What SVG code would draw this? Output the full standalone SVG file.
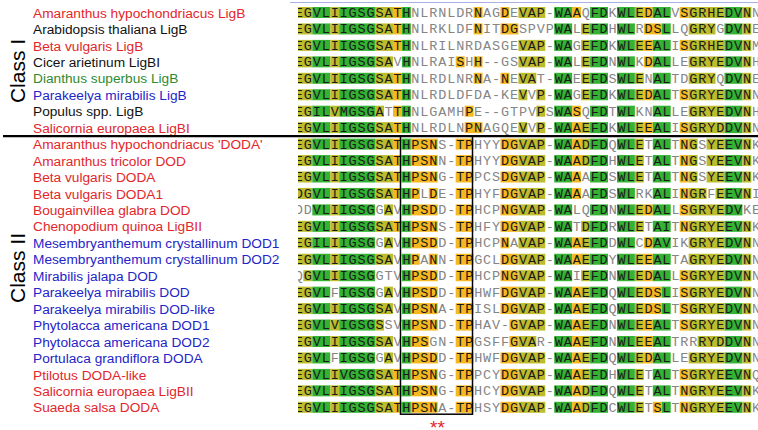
<svg xmlns="http://www.w3.org/2000/svg" xmlns:xlink="http://www.w3.org/1999/xlink" width="758" height="430" viewBox="0 0 758 430">
<style>
.n{font-family:"Liberation Sans",Arial,sans-serif;font-size:13.7px}
.r{fill:#e3262b}.k{fill:#111}.gr{fill:#2f8a2f}.b{fill:#2424c8}
.cls{font-family:"Liberation Sans",Arial,sans-serif;font-size:21px;fill:#000}
.s{font-family:"Liberation Mono","DejaVu Sans Mono",monospace;font-size:13.5px;letter-spacing:0.86px;fill:#858585}
.d{fill:#1a1a1a}
.g{fill:#33b233}.y{fill:#bcbc2c}.o{fill:#f5b820}
.ast{font-family:"Liberation Sans",Arial,sans-serif;font-size:19px;fill:#e3262b}
</style>
<defs>
<clipPath id="cp"><rect x="298" y="0" width="460" height="430"/></clipPath>
<g id="A"><rect class="y" x="0" width="2" height="1"/><rect class="g" x="2" width="2" height="1"/><rect class="y" x="4" width="1" height="1"/><rect class="g" x="5" width="4" height="1"/><rect class="y" x="9" width="2" height="1"/><rect class="o" x="11" width="1" height="1"/><rect class="g" x="12" width="1" height="1"/></g>
<g id="B"><rect class="o" x="13" width="3" height="1"/><rect class="o" x="18" width="2" height="1"/><rect class="o" x="23" width="2" height="1"/><rect class="y" x="25" width="3" height="1"/></g>
<g id="C"><rect class="g" x="29" width="2" height="1"/><rect class="o" x="31" width="1" height="1"/><rect class="y" x="32" width="1" height="1"/><rect class="g" x="33" width="2" height="1"/><rect class="g" x="36" width="2" height="1"/><rect class="y" x="38" width="1" height="1"/><rect class="g" x="48" width="2" height="1"/><rect class="y" x="50" width="1" height="1"/></g>
</defs>
<rect width="758" height="430" fill="#fff"/>
<line x1="290" y1="2.5" x2="758" y2="2.5" stroke="#aab0e6" stroke-width="1"/>
<g id="class-labels">
<text class="cls" transform="translate(25 71) rotate(-90)" text-anchor="middle">Class I</text>
<text class="cls" transform="translate(25 268) rotate(-90)" text-anchor="middle">Class II</text>
</g>
<g id="names" class="n">
<text x="33" y="17.6" class="r">Amaranthus hypochondriacus LigB</text>
<text x="33" y="34.05" class="k">Arabidopsis thaliana LigB</text>
<text x="33" y="50.5" class="r">Beta vulgaris LigB</text>
<text x="33" y="66.95" class="k">Cicer arietinum LigBI</text>
<text x="33" y="83.4" class="gr">Dianthus superbus LigB</text>
<text x="33" y="99.85" class="b">Parakeelya mirabilis LigB</text>
<text x="33" y="116.3" class="k">Populus spp. LigB</text>
<text x="33" y="132.75" class="r">Salicornia europaea LigBI</text>
<text x="33" y="149.2" class="r">Amaranthus hypochondriacus 'DODA'</text>
<text x="33" y="165.65" class="r">Amaranthus tricolor DOD</text>
<text x="33" y="182.1" class="r">Beta vulgaris DODA</text>
<text x="33" y="198.55" class="r">Beta vulgaris DODA1</text>
<text x="33" y="215" class="r">Bougainvillea glabra DOD</text>
<text x="33" y="231.45" class="r">Chenopodium quinoa LigBII</text>
<text x="33" y="247.9" class="b">Mesembryanthemum crystallinum DOD1</text>
<text x="33" y="264.35" class="b">Mesembryanthemum crystallinum DOD2</text>
<text x="33" y="280.8" class="b">Mirabilis jalapa DOD</text>
<text x="33" y="297.25" class="b">Parakeelya mirabilis DOD</text>
<text x="33" y="313.7" class="b">Parakeelya mirabilis DOD-like</text>
<text x="33" y="330.15" class="b">Phytolacca americana DOD1</text>
<text x="33" y="346.6" class="b">Phytolacca americana DOD2</text>
<text x="33" y="363.05" class="b">Portulaca grandiflora DODA</text>
<text x="33" y="379.5" class="r">Ptilotus DODA-like</text>
<text x="33" y="395.95" class="r">Salicornia europaea LigBII</text>
<text x="33" y="412.4" class="r">Suaeda salsa DODA</text>
</g>
<g id="alignment" clip-path="url(#cp)">
<g id="shading">
<g transform="translate(294.4 7) scale(8.96 11)"><use href="#A"/><rect class="o" x="20" width="1" height="1"/><rect class="o" x="23" width="1" height="1"/><rect class="y" x="25" width="3" height="1"/><rect class="g" x="29" width="2" height="1"/><rect class="o" x="31" width="1" height="1"/><rect class="g" x="33" width="2" height="1"/><rect class="g" x="36" width="2" height="1"/><rect class="y" x="38" width="1" height="1"/><rect class="o" x="39" width="1" height="1"/><rect class="g" x="40" width="2" height="1"/><rect class="o" x="43" width="1" height="1"/><rect class="y" x="44" width="4" height="1"/><rect class="g" x="48" width="2" height="1"/><rect class="y" x="50" width="1" height="1"/></g>
<g transform="translate(294.4 23.45) scale(8.96 11)"><use href="#A"/><rect class="o" x="20" width="1" height="1"/><rect class="o" x="23" width="2" height="1"/><rect class="g" x="29" width="2" height="1"/><rect class="y" x="32" width="1" height="1"/><rect class="g" x="33" width="2" height="1"/><rect class="g" x="36" width="2" height="1"/><rect class="o" x="39" width="2" height="1"/><rect class="g" x="41" width="1" height="1"/><rect class="y" x="44" width="3" height="1"/><rect class="g" x="48" width="2" height="1"/><rect class="y" x="50" width="1" height="1"/></g>
<g transform="translate(294.4 39.9) scale(8.96 11)"><use href="#A"/><rect class="y" x="25" width="3" height="1"/><rect class="g" x="29" width="2" height="1"/><rect class="y" x="32" width="1" height="1"/><rect class="g" x="33" width="2" height="1"/><rect class="g" x="36" width="2" height="1"/><rect class="y" x="38" width="1" height="1"/><rect class="o" x="39" width="1" height="1"/><rect class="g" x="40" width="2" height="1"/><rect class="o" x="43" width="1" height="1"/><rect class="y" x="44" width="4" height="1"/><rect class="g" x="48" width="2" height="1"/><rect class="y" x="50" width="1" height="1"/></g>
<g transform="translate(294.4 56.35) scale(8.96 11)"><rect class="y" x="0" width="2" height="1"/><rect class="g" x="2" width="2" height="1"/><rect class="y" x="4" width="1" height="1"/><rect class="g" x="5" width="4" height="1"/><rect class="y" x="9" width="2" height="1"/><rect class="g" x="12" width="1" height="1"/><rect class="o" x="18" width="1" height="1"/><rect class="o" x="20" width="1" height="1"/><rect class="y" x="25" width="3" height="1"/><rect class="g" x="29" width="2" height="1"/><rect class="y" x="32" width="1" height="1"/><rect class="g" x="33" width="2" height="1"/><rect class="g" x="36" width="2" height="1"/><rect class="o" x="39" width="1" height="1"/><rect class="g" x="40" width="2" height="1"/><rect class="y" x="44" width="4" height="1"/><rect class="g" x="48" width="2" height="1"/><rect class="y" x="50" width="1" height="1"/></g>
<g transform="translate(294.4 72.8) scale(8.96 11)"><use href="#A"/><rect class="o" x="20" width="1" height="1"/><rect class="o" x="23" width="1" height="1"/><rect class="y" x="25" width="2" height="1"/><rect class="g" x="29" width="2" height="1"/><rect class="y" x="32" width="1" height="1"/><rect class="g" x="33" width="2" height="1"/><rect class="g" x="36" width="2" height="1"/><rect class="y" x="38" width="1" height="1"/><rect class="g" x="40" width="2" height="1"/><rect class="y" x="44" width="3" height="1"/><rect class="g" x="48" width="2" height="1"/><rect class="y" x="50" width="1" height="1"/></g>
<g transform="translate(294.4 89.25) scale(8.96 11)"><use href="#A"/><rect class="y" x="25" width="1" height="1"/><rect class="y" x="27" width="1" height="1"/><rect class="g" x="29" width="2" height="1"/><rect class="y" x="32" width="1" height="1"/><rect class="g" x="33" width="2" height="1"/><rect class="g" x="36" width="2" height="1"/><rect class="y" x="38" width="1" height="1"/><rect class="o" x="39" width="1" height="1"/><rect class="g" x="40" width="2" height="1"/><rect class="o" x="43" width="1" height="1"/><rect class="y" x="44" width="4" height="1"/><rect class="g" x="48" width="2" height="1"/><rect class="y" x="50" width="1" height="1"/></g>
<g transform="translate(294.4 105.7) scale(8.96 11)"><rect class="y" x="0" width="2" height="1"/><rect class="g" x="2" width="2" height="1"/><rect class="y" x="4" width="1" height="1"/><rect class="g" x="5" width="4" height="1"/><rect class="y" x="9" width="1" height="1"/><rect class="o" x="11" width="1" height="1"/><rect class="g" x="12" width="1" height="1"/><rect class="o" x="19" width="1" height="1"/><rect class="y" x="27" width="1" height="1"/><rect class="g" x="29" width="2" height="1"/><rect class="o" x="31" width="1" height="1"/><rect class="g" x="33" width="2" height="1"/><rect class="g" x="36" width="2" height="1"/><rect class="g" x="40" width="2" height="1"/><rect class="y" x="44" width="4" height="1"/><rect class="g" x="48" width="2" height="1"/><rect class="y" x="50" width="1" height="1"/></g>
<g transform="translate(294.4 122.15) scale(8.96 11)"><use href="#A"/><use href="#C"/><rect class="o" x="19" width="2" height="1"/><rect class="y" x="25" width="1" height="1"/><rect class="y" x="27" width="1" height="1"/><rect class="o" x="39" width="1" height="1"/><rect class="g" x="40" width="2" height="1"/><rect class="o" x="43" width="1" height="1"/><rect class="y" x="44" width="4" height="1"/></g>
<g transform="translate(294.4 138.6) scale(8.96 11)"><use href="#A"/><use href="#B"/><use href="#C"/><rect class="g" x="40" width="2" height="1"/><rect class="o" x="43" width="1" height="1"/><rect class="y" x="44" width="1" height="1"/><rect class="y" x="46" width="2" height="1"/></g>
<g transform="translate(294.4 155.05) scale(8.96 11)"><use href="#A"/><use href="#B"/><use href="#C"/><rect class="g" x="40" width="2" height="1"/><rect class="o" x="43" width="1" height="1"/><rect class="y" x="44" width="1" height="1"/><rect class="y" x="46" width="2" height="1"/></g>
<g transform="translate(294.4 171.5) scale(8.96 11)"><use href="#A"/><use href="#B"/><rect class="g" x="29" width="2" height="1"/><rect class="o" x="31" width="1" height="1"/><rect class="g" x="33" width="2" height="1"/><rect class="g" x="36" width="2" height="1"/><rect class="y" x="38" width="1" height="1"/><rect class="g" x="40" width="2" height="1"/><rect class="o" x="43" width="1" height="1"/><rect class="y" x="44" width="1" height="1"/><rect class="y" x="46" width="2" height="1"/><rect class="g" x="48" width="2" height="1"/><rect class="y" x="50" width="1" height="1"/></g>
<g transform="translate(294.4 187.95) scale(8.96 11)"><use href="#A"/><rect class="o" x="13" width="1" height="1"/><rect class="o" x="15" width="1" height="1"/><rect class="o" x="18" width="2" height="1"/><rect class="o" x="23" width="2" height="1"/><rect class="y" x="25" width="3" height="1"/><rect class="g" x="29" width="2" height="1"/><rect class="o" x="31" width="1" height="1"/><rect class="g" x="33" width="2" height="1"/><rect class="g" x="36" width="2" height="1"/><rect class="g" x="40" width="2" height="1"/><rect class="o" x="43" width="1" height="1"/><rect class="y" x="44" width="2" height="1"/><rect class="y" x="47" width="1" height="1"/><rect class="g" x="48" width="2" height="1"/><rect class="y" x="50" width="1" height="1"/></g>
<g transform="translate(294.4 204.4) scale(8.96 11)"><rect class="g" x="2" width="2" height="1"/><rect class="y" x="4" width="1" height="1"/><rect class="g" x="5" width="4" height="1"/><rect class="y" x="10" width="1" height="1"/><rect class="g" x="12" width="1" height="1"/><use href="#B"/><rect class="g" x="29" width="2" height="1"/><rect class="g" x="33" width="2" height="1"/><rect class="g" x="36" width="2" height="1"/><rect class="y" x="38" width="1" height="1"/><rect class="o" x="39" width="1" height="1"/><rect class="g" x="40" width="2" height="1"/><rect class="o" x="43" width="1" height="1"/><rect class="y" x="44" width="4" height="1"/><rect class="g" x="48" width="2" height="1"/></g>
<g transform="translate(294.4 220.85) scale(8.96 11)"><use href="#A"/><use href="#B"/><rect class="g" x="29" width="2" height="1"/><rect class="y" x="32" width="1" height="1"/><rect class="g" x="33" width="2" height="1"/><rect class="g" x="36" width="2" height="1"/><rect class="y" x="38" width="1" height="1"/><rect class="g" x="40" width="2" height="1"/><rect class="o" x="43" width="1" height="1"/><rect class="y" x="44" width="4" height="1"/><rect class="g" x="48" width="2" height="1"/><rect class="y" x="50" width="1" height="1"/></g>
<g transform="translate(294.4 237.3) scale(8.96 11)"><rect class="y" x="0" width="2" height="1"/><rect class="g" x="2" width="2" height="1"/><rect class="y" x="4" width="1" height="1"/><rect class="g" x="5" width="4" height="1"/><rect class="y" x="10" width="1" height="1"/><rect class="g" x="12" width="1" height="1"/><rect class="o" x="13" width="3" height="1"/><rect class="o" x="18" width="2" height="1"/><rect class="o" x="23" width="1" height="1"/><rect class="y" x="25" width="3" height="1"/><rect class="g" x="29" width="2" height="1"/><rect class="o" x="31" width="1" height="1"/><rect class="y" x="32" width="1" height="1"/><rect class="g" x="33" width="2" height="1"/><rect class="g" x="36" width="2" height="1"/><rect class="o" x="39" width="1" height="1"/><rect class="g" x="40" width="2" height="1"/><rect class="y" x="44" width="4" height="1"/><rect class="g" x="48" width="2" height="1"/><rect class="y" x="50" width="1" height="1"/></g>
<g transform="translate(294.4 253.75) scale(8.96 11)"><rect class="y" x="0" width="2" height="1"/><rect class="g" x="2" width="2" height="1"/><rect class="y" x="4" width="1" height="1"/><rect class="g" x="5" width="4" height="1"/><rect class="y" x="9" width="2" height="1"/><rect class="g" x="12" width="1" height="1"/><rect class="o" x="13" width="1" height="1"/><rect class="o" x="15" width="1" height="1"/><rect class="o" x="18" width="2" height="1"/><rect class="o" x="23" width="2" height="1"/><rect class="y" x="25" width="3" height="1"/><use href="#C"/><rect class="o" x="39" width="1" height="1"/><rect class="g" x="40" width="2" height="1"/><rect class="y" x="44" width="4" height="1"/></g>
<g transform="translate(294.4 270.2) scale(8.96 11)"><rect class="y" x="1" width="1" height="1"/><rect class="g" x="2" width="2" height="1"/><rect class="y" x="4" width="1" height="1"/><rect class="g" x="5" width="4" height="1"/><rect class="g" x="12" width="1" height="1"/><use href="#B"/><rect class="g" x="29" width="2" height="1"/><rect class="y" x="32" width="1" height="1"/><rect class="g" x="33" width="2" height="1"/><rect class="g" x="36" width="2" height="1"/><rect class="y" x="38" width="1" height="1"/><rect class="o" x="39" width="1" height="1"/><rect class="g" x="40" width="2" height="1"/><rect class="o" x="43" width="1" height="1"/><rect class="y" x="44" width="4" height="1"/><rect class="g" x="48" width="2" height="1"/><rect class="y" x="50" width="1" height="1"/></g>
<g transform="translate(294.4 286.65) scale(8.96 11)"><rect class="y" x="0" width="2" height="1"/><rect class="g" x="2" width="2" height="1"/><rect class="g" x="5" width="4" height="1"/><rect class="y" x="10" width="1" height="1"/><rect class="g" x="12" width="1" height="1"/><use href="#B"/><use href="#C"/><rect class="o" x="39" width="2" height="1"/><rect class="g" x="41" width="1" height="1"/><rect class="o" x="43" width="1" height="1"/><rect class="y" x="44" width="4" height="1"/></g>
<g transform="translate(294.4 303.1) scale(8.96 11)"><rect class="y" x="0" width="2" height="1"/><rect class="g" x="2" width="2" height="1"/><rect class="y" x="4" width="1" height="1"/><rect class="g" x="5" width="4" height="1"/><rect class="y" x="9" width="2" height="1"/><rect class="g" x="12" width="1" height="1"/><use href="#B"/><use href="#C"/><rect class="o" x="39" width="2" height="1"/><rect class="g" x="41" width="1" height="1"/><rect class="o" x="43" width="1" height="1"/><rect class="y" x="44" width="4" height="1"/></g>
<g transform="translate(294.4 319.55) scale(8.96 11)"><rect class="y" x="0" width="2" height="1"/><rect class="g" x="2" width="2" height="1"/><rect class="y" x="4" width="1" height="1"/><rect class="g" x="5" width="4" height="1"/><rect class="y" x="9" width="1" height="1"/><rect class="g" x="12" width="1" height="1"/><rect class="o" x="13" width="3" height="1"/><rect class="o" x="18" width="2" height="1"/><rect class="o" x="24" width="1" height="1"/><rect class="y" x="25" width="3" height="1"/><use href="#C"/><rect class="o" x="39" width="1" height="1"/><rect class="g" x="40" width="2" height="1"/><rect class="o" x="43" width="1" height="1"/><rect class="y" x="44" width="4" height="1"/></g>
<g transform="translate(294.4 336) scale(8.96 11)"><rect class="y" x="0" width="2" height="1"/><rect class="g" x="2" width="2" height="1"/><rect class="y" x="4" width="1" height="1"/><rect class="g" x="5" width="4" height="1"/><rect class="y" x="9" width="2" height="1"/><rect class="g" x="12" width="1" height="1"/><rect class="o" x="13" width="2" height="1"/><rect class="o" x="18" width="2" height="1"/><rect class="o" x="24" width="1" height="1"/><rect class="y" x="25" width="2" height="1"/><use href="#C"/><rect class="o" x="39" width="1" height="1"/><rect class="g" x="40" width="2" height="1"/><rect class="y" x="45" width="3" height="1"/></g>
<g transform="translate(294.4 352.45) scale(8.96 11)"><rect class="y" x="0" width="2" height="1"/><rect class="g" x="2" width="2" height="1"/><rect class="g" x="5" width="4" height="1"/><rect class="y" x="10" width="1" height="1"/><rect class="g" x="12" width="1" height="1"/><use href="#B"/><use href="#C"/><rect class="o" x="39" width="1" height="1"/><rect class="g" x="40" width="2" height="1"/><rect class="y" x="44" width="4" height="1"/></g>
<g transform="translate(294.4 368.9) scale(8.96 11)"><use href="#A"/><use href="#B"/><use href="#C"/><rect class="g" x="40" width="2" height="1"/><rect class="o" x="43" width="1" height="1"/><rect class="y" x="44" width="4" height="1"/></g>
<g transform="translate(294.4 385.35) scale(8.96 11)"><use href="#A"/><use href="#B"/><use href="#C"/><rect class="g" x="40" width="2" height="1"/><rect class="o" x="43" width="1" height="1"/><rect class="y" x="44" width="4" height="1"/></g>
<g transform="translate(294.4 401.8) scale(8.96 11)"><use href="#A"/><use href="#B"/><use href="#C"/><rect class="o" x="40" width="1" height="1"/><rect class="g" x="41" width="1" height="1"/><rect class="o" x="43" width="1" height="1"/><rect class="y" x="44" width="4" height="1"/></g>
</g>
<g id="sequences" class="s">
<text x="294.83" y="16.9"><tspan class="d">EGVLIIGSGSATH</tspan>NLRNLDR<tspan class="d">N</tspan>AG<tspan class="d">D</tspan>E<tspan class="d">VAP</tspan>-<tspan class="d">WAA</tspan>Q<tspan class="d">FD</tspan>K<tspan class="d">WLEDAL</tspan>V<tspan class="d">SGRHEDVN</tspan>N</text>
<text x="294.83" y="33.35"><tspan class="d">EGVLIIGSGSATH</tspan>NLRKLDF<tspan class="d">N</tspan>IT<tspan class="d">DG</tspan>SPVP<tspan class="d">WA</tspan>L<tspan class="d">EFD</tspan>H<tspan class="d">WL</tspan>R<tspan class="d">DSL</tspan>LQ<tspan class="d">GRY</tspan>G<tspan class="d">DVN</tspan>E</text>
<text x="294.83" y="49.8"><tspan class="d">EGVLIIGSGSATH</tspan>NLRILNRDASGE<tspan class="d">VAP</tspan>-<tspan class="d">WA</tspan>G<tspan class="d">EFD</tspan>K<tspan class="d">WLEEAL</tspan>I<tspan class="d">SGRHEDVN</tspan>M</text>
<text x="294.83" y="66.25"><tspan class="d">EGVLIIGSGSA</tspan>V<tspan class="d">H</tspan>NLRAI<tspan class="d">S</tspan>H<tspan class="d">H</tspan>--GS<tspan class="d">VAP</tspan>-<tspan class="d">WA</tspan>L<tspan class="d">EFD</tspan>N<tspan class="d">WL</tspan>K<tspan class="d">DAL</tspan>LE<tspan class="d">GRYEDVN</tspan>H</text>
<text x="294.83" y="82.7"><tspan class="d">EGVLIIGSGSATH</tspan>NLRDLNR<tspan class="d">N</tspan>A-<tspan class="d">N</tspan>E<tspan class="d">VA</tspan>T-<tspan class="d">WA</tspan>E<tspan class="d">EFD</tspan>S<tspan class="d">WLE</tspan>N<tspan class="d">AL</tspan>TD<tspan class="d">GRY</tspan>Q<tspan class="d">DVN</tspan>E</text>
<text x="294.83" y="99.15"><tspan class="d">EGVLIIGSGSATH</tspan>NLRDLDFDA-KE<tspan class="d">V</tspan>V<tspan class="d">P</tspan>-<tspan class="d">WA</tspan>G<tspan class="d">EFD</tspan>K<tspan class="d">WLEDAL</tspan>T<tspan class="d">SGRYEDVN</tspan>N</text>
<text x="294.83" y="115.6"><tspan class="d">EGILVMGSGA</tspan>T<tspan class="d">TH</tspan>NLGAMH<tspan class="d">P</tspan>E--GTPV<tspan class="d">P</tspan>S<tspan class="d">WAS</tspan>Q<tspan class="d">FD</tspan>T<tspan class="d">WL</tspan>KN<tspan class="d">AL</tspan>LE<tspan class="d">GRYEDVN</tspan>H</text>
<text x="294.83" y="132.05"><tspan class="d">EGVLIIGSGSATH</tspan>NLRDLN<tspan class="d">PN</tspan>AGQE<tspan class="d">V</tspan>V<tspan class="d">P</tspan>-<tspan class="d">WAAEFD</tspan>K<tspan class="d">WLEEAL</tspan>I<tspan class="d">SGRYDDVN</tspan>N</text>
<text x="294.83" y="148.5"><tspan class="d">EGVLIIGSGSATHPSN</tspan>S-<tspan class="d">TP</tspan>HYY<tspan class="d">DGVAP</tspan>-<tspan class="d">WAADFD</tspan>Q<tspan class="d">WLE</tspan>T<tspan class="d">AL</tspan>T<tspan class="d">NG</tspan>S<tspan class="d">YEEVN</tspan>K</text>
<text x="294.83" y="164.95"><tspan class="d">EGVLIIGSGSATHPSN</tspan>N-<tspan class="d">TP</tspan>HYY<tspan class="d">DGVAP</tspan>-<tspan class="d">WAADFD</tspan>H<tspan class="d">WLE</tspan>T<tspan class="d">AL</tspan>T<tspan class="d">NG</tspan>S<tspan class="d">YEEVN</tspan>K</text>
<text x="294.83" y="181.4"><tspan class="d">EGVLIIGSGSATHPSN</tspan>G-<tspan class="d">TP</tspan>PCS<tspan class="d">DGVAP</tspan>-<tspan class="d">WAA</tspan>A<tspan class="d">FD</tspan>S<tspan class="d">WLE</tspan>T<tspan class="d">AL</tspan>T<tspan class="d">NG</tspan>S<tspan class="d">YEEVN</tspan>K</text>
<text x="294.83" y="197.85"><tspan class="d">DGVLIIGSGSATHP</tspan>L<tspan class="d">D</tspan>E-<tspan class="d">TP</tspan>HYF<tspan class="d">DGVAP</tspan>-<tspan class="d">WAA</tspan>A<tspan class="d">FD</tspan>S<tspan class="d">WL</tspan>RK<tspan class="d">AL</tspan>I<tspan class="d">NGR</tspan>F<tspan class="d">EEVN</tspan>I</text>
<text x="294.83" y="214.3">DD<tspan class="d">VLIIGSG</tspan>G<tspan class="d">A</tspan>V<tspan class="d">HPSD</tspan>D-<tspan class="d">TP</tspan>HCP<tspan class="d">NGVAP</tspan>-<tspan class="d">WA</tspan>LQ<tspan class="d">FD</tspan>N<tspan class="d">WLEDAL</tspan>L<tspan class="d">SGRYEDV</tspan>KE</text>
<text x="294.83" y="230.75"><tspan class="d">EGVLIIGSGSATHPSN</tspan>S-<tspan class="d">TP</tspan>HFY<tspan class="d">DGVAP</tspan>-<tspan class="d">WA</tspan>T<tspan class="d">DFD</tspan>R<tspan class="d">WLE</tspan>T<tspan class="d">AI</tspan>T<tspan class="d">NGRYEEVN</tspan>K</text>
<text x="294.83" y="247.2"><tspan class="d">EGILIIGSG</tspan>G<tspan class="d">A</tspan>V<tspan class="d">HPSD</tspan>D-<tspan class="d">TP</tspan>HCP<tspan class="d">N</tspan>A<tspan class="d">VAP</tspan>-<tspan class="d">WAAEFD</tspan>D<tspan class="d">WL</tspan>C<tspan class="d">DAV</tspan>IK<tspan class="d">GRYEDVN</tspan>N</text>
<text x="294.83" y="263.65"><tspan class="d">EGVLIIGSGSA</tspan>V<tspan class="d">HP</tspan>A<tspan class="d">N</tspan>N-<tspan class="d">TP</tspan>GCL<tspan class="d">DGVAP</tspan>-<tspan class="d">WAAEFD</tspan>Y<tspan class="d">WLEEAL</tspan>TA<tspan class="d">GRYEDVN</tspan>N</text>
<text x="294.83" y="280.1">Q<tspan class="d">GVLIIGSG</tspan>GTV<tspan class="d">HPSD</tspan>D-<tspan class="d">TP</tspan>HCP<tspan class="d">NGVAP</tspan>-<tspan class="d">WA</tspan>I<tspan class="d">EFD</tspan>N<tspan class="d">WLEDAL</tspan>L<tspan class="d">SGRYEDVN</tspan>N</text>
<text x="294.83" y="296.55"><tspan class="d">EGVL</tspan>F<tspan class="d">IGSG</tspan>G<tspan class="d">A</tspan>V<tspan class="d">HPSD</tspan>D-<tspan class="d">TP</tspan>HWF<tspan class="d">DGVAP</tspan>-<tspan class="d">WAAEFD</tspan>Q<tspan class="d">WLEDSL</tspan>I<tspan class="d">SGRYEDVN</tspan>N</text>
<text x="294.83" y="313"><tspan class="d">EGVLIIGSGSA</tspan>V<tspan class="d">HPSN</tspan>A-<tspan class="d">TP</tspan>ISL<tspan class="d">DGVAP</tspan>-<tspan class="d">WAAEFD</tspan>Q<tspan class="d">WLEDSL</tspan>T<tspan class="d">SGRYEDVN</tspan>N</text>
<text x="294.83" y="329.45"><tspan class="d">EGVLVIGSGS</tspan>SV<tspan class="d">HPSN</tspan>D-<tspan class="d">TP</tspan>HAV-<tspan class="d">GVAP</tspan>-<tspan class="d">WAAEFD</tspan>N<tspan class="d">WLEEAL</tspan>T<tspan class="d">SGRYEDVN</tspan>N</text>
<text x="294.83" y="345.9"><tspan class="d">EGVLIIGSGSA</tspan>V<tspan class="d">HPS</tspan>GN-<tspan class="d">TP</tspan>GSFF<tspan class="d">GVA</tspan>R-<tspan class="d">WAAEFD</tspan>N<tspan class="d">WLEEAL</tspan>TRR<tspan class="d">RYDDVN</tspan>N</text>
<text x="294.83" y="362.35"><tspan class="d">EGVL</tspan>F<tspan class="d">IGSG</tspan>G<tspan class="d">A</tspan>V<tspan class="d">HPSD</tspan>D-<tspan class="d">TP</tspan>HWF<tspan class="d">DGVAP</tspan>-<tspan class="d">WAAEFD</tspan>Q<tspan class="d">WLEDAL</tspan>LE<tspan class="d">GRYEDVN</tspan>N</text>
<text x="294.83" y="378.8"><tspan class="d">EGVLIVGSGSATHPSN</tspan>G-<tspan class="d">TP</tspan>PCY<tspan class="d">DGVAP</tspan>-<tspan class="d">WAAEFD</tspan>H<tspan class="d">WLE</tspan>T<tspan class="d">AL</tspan>T<tspan class="d">SGRYEEVN</tspan>Q</text>
<text x="294.83" y="395.25"><tspan class="d">EGVLIIGSGSATHPSN</tspan>G-<tspan class="d">TP</tspan>HCY<tspan class="d">DGVAP</tspan>-<tspan class="d">WAADFD</tspan>Q<tspan class="d">WLE</tspan>T<tspan class="d">AL</tspan>T<tspan class="d">NGRYEEVN</tspan>K</text>
<text x="294.83" y="411.7"><tspan class="d">EGVLIIGSGSATHPSN</tspan>A-<tspan class="d">TP</tspan>HSY<tspan class="d">DGVAP</tspan>-<tspan class="d">WAADFD</tspan>C<tspan class="d">WLE</tspan>T<tspan class="d">SL</tspan>T<tspan class="d">NGRYEEVN</tspan>K</text>
</g>
</g>
<g id="divider"><line x1="3" y1="136.2" x2="758" y2="136.2" stroke="#000" stroke-width="2.2"/></g>
<g id="motif-box"><rect x="400.5" y="136.2" width="72" height="278" fill="none" stroke="#000" stroke-width="1.5"/></g>
<text id="stars" class="ast" x="430" y="434">**</text>
</svg>
